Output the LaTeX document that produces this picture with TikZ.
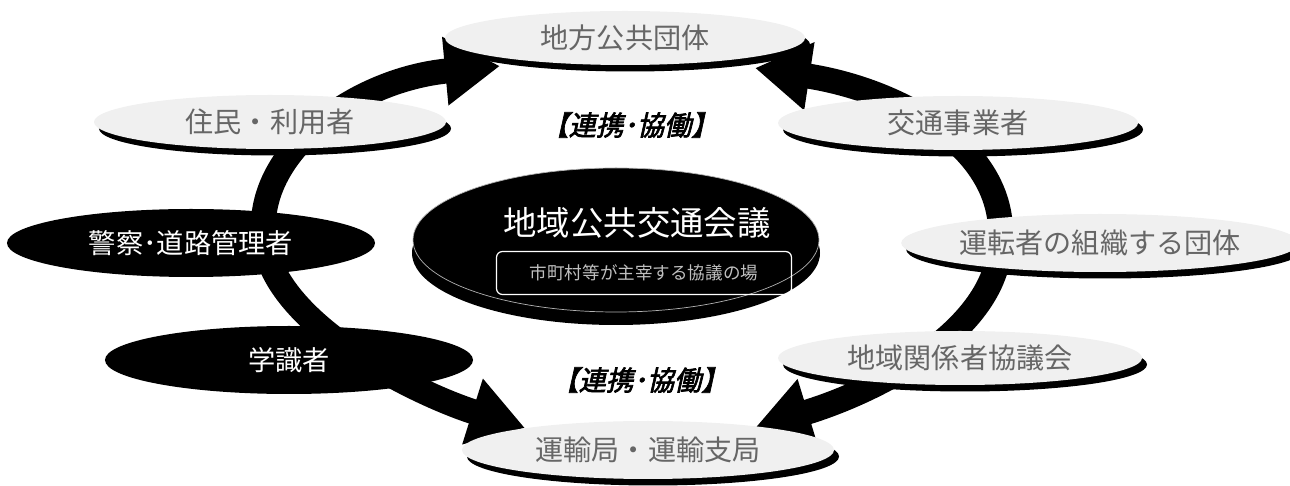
\documentclass[tikz,border=0pt]{standalone}
\usepackage{fontspec}
\newfontfamily\cjk{Noto Sans CJK JP}
\newfontfamily\cjkslant{Noto Sans CJK JP}[FakeSlant=0.22,FakeBold=2.5]
\usetikzlibrary{arrows.meta,shapes.geometric,shadows}

\begin{document}
\begin{tikzpicture}[x=0.2mm,y=-0.2mm,
  band/.style={line width=5mm,{Triangle[length=11mm,width=13mm]}-{Triangle[length=11mm,width=13mm]}},
  speckle/.style={ellipse,inner sep=0pt,fill=gray!12,text=black!60,
    font=\cjk\fontsize{16pt}{16pt}\selectfont,minimum width=72mm,minimum height=10.8mm,
    drop shadow={shadow xshift=1mm,shadow yshift=-1.3mm,opacity=1,fill=black}},
  darkdisk/.style={ellipse,inner sep=0pt,fill=black,text=white,
    font=\cjk\fontsize{15.5pt}{15.5pt}\selectfont,minimum width=73.6mm,minimum height=13.6mm},
  linklabel/.style={font=\cjkslant\fontsize{15.5pt}{15.5pt}\selectfont}]
  \useasboundingbox (0,0) rectangle (1290,486);

  % ends of the two arcs
  \coordinate (tipTL) at (500,66);
  \coordinate (midL) at (266,250);
  \coordinate (tipBL) at (525,428);
  \coordinate (tipTR) at (755,68);
  \coordinate (midR) at (1000,245);
  \coordinate (tipBR) at (755,428);

  % thick arcs behind the ellipses
  \draw[band] (tipTL) .. controls (350,80) and (245,160) .. (midL)
    .. controls (285,330) and (420,395) .. (tipBL);
  \draw[band] (tipTR) .. controls (900,90) and (1010,150) .. (midR)
    .. controls (995,330) and (880,390) .. (tipBR);

  % members
  \node[speckle] (localGov) at (625,38) {地方公共団体};
  \node[speckle,minimum width=70.4mm] (residents) at (270,122) {住民・利用者};
  \node[speckle] (operators) at (958,123) {交通事業者};
  \node[speckle,minimum height=11.6mm] (drivers) at (1100,243) {運転者の組織する団体};
  \node[speckle,minimum width=72.8mm] (locals) at (960,358) {地域関係者協議会};
  \node[speckle,minimum width=74.4mm,minimum height=11.6mm] (transBureau) at (648,450) {運輸局・運輸支局};
  \node[darkdisk] (police) at (191,243) {警察･道路管理者};
  \node[darkdisk] (experts) at (289,360) {学識者};

  % council in the middle
  \node[ellipse,fill=black,minimum width=81.6mm,minimum height=28.8mm] (councilBase) at (616,253) {};
  \node[ellipse,fill=black,draw=gray!60,line width=0.4pt,minimum width=81.2mm,minimum height=28.8mm] (council) at (616,240) {};
  \node[text=white,font=\cjk\fontsize{19pt}{19pt}\selectfont] (councilTitle) at (637,223) {地域公共交通会議};
  \node[draw=white,line width=0.7pt,rounded corners=1.2mm,minimum width=59mm,minimum height=8.6mm,
    text=white!75!black,font=\cjk\fontsize{10pt}{10pt}\selectfont] (councilNote) at (644,273) {市町村等が主宰する協議の場};

  % labels
  \node[linklabel] (linkTop) at (630,125) {【連携･協働】};
  \node[linklabel] (linkBottom) at (640,380) {【連携･協働】};
\end{tikzpicture}
\end{document}
